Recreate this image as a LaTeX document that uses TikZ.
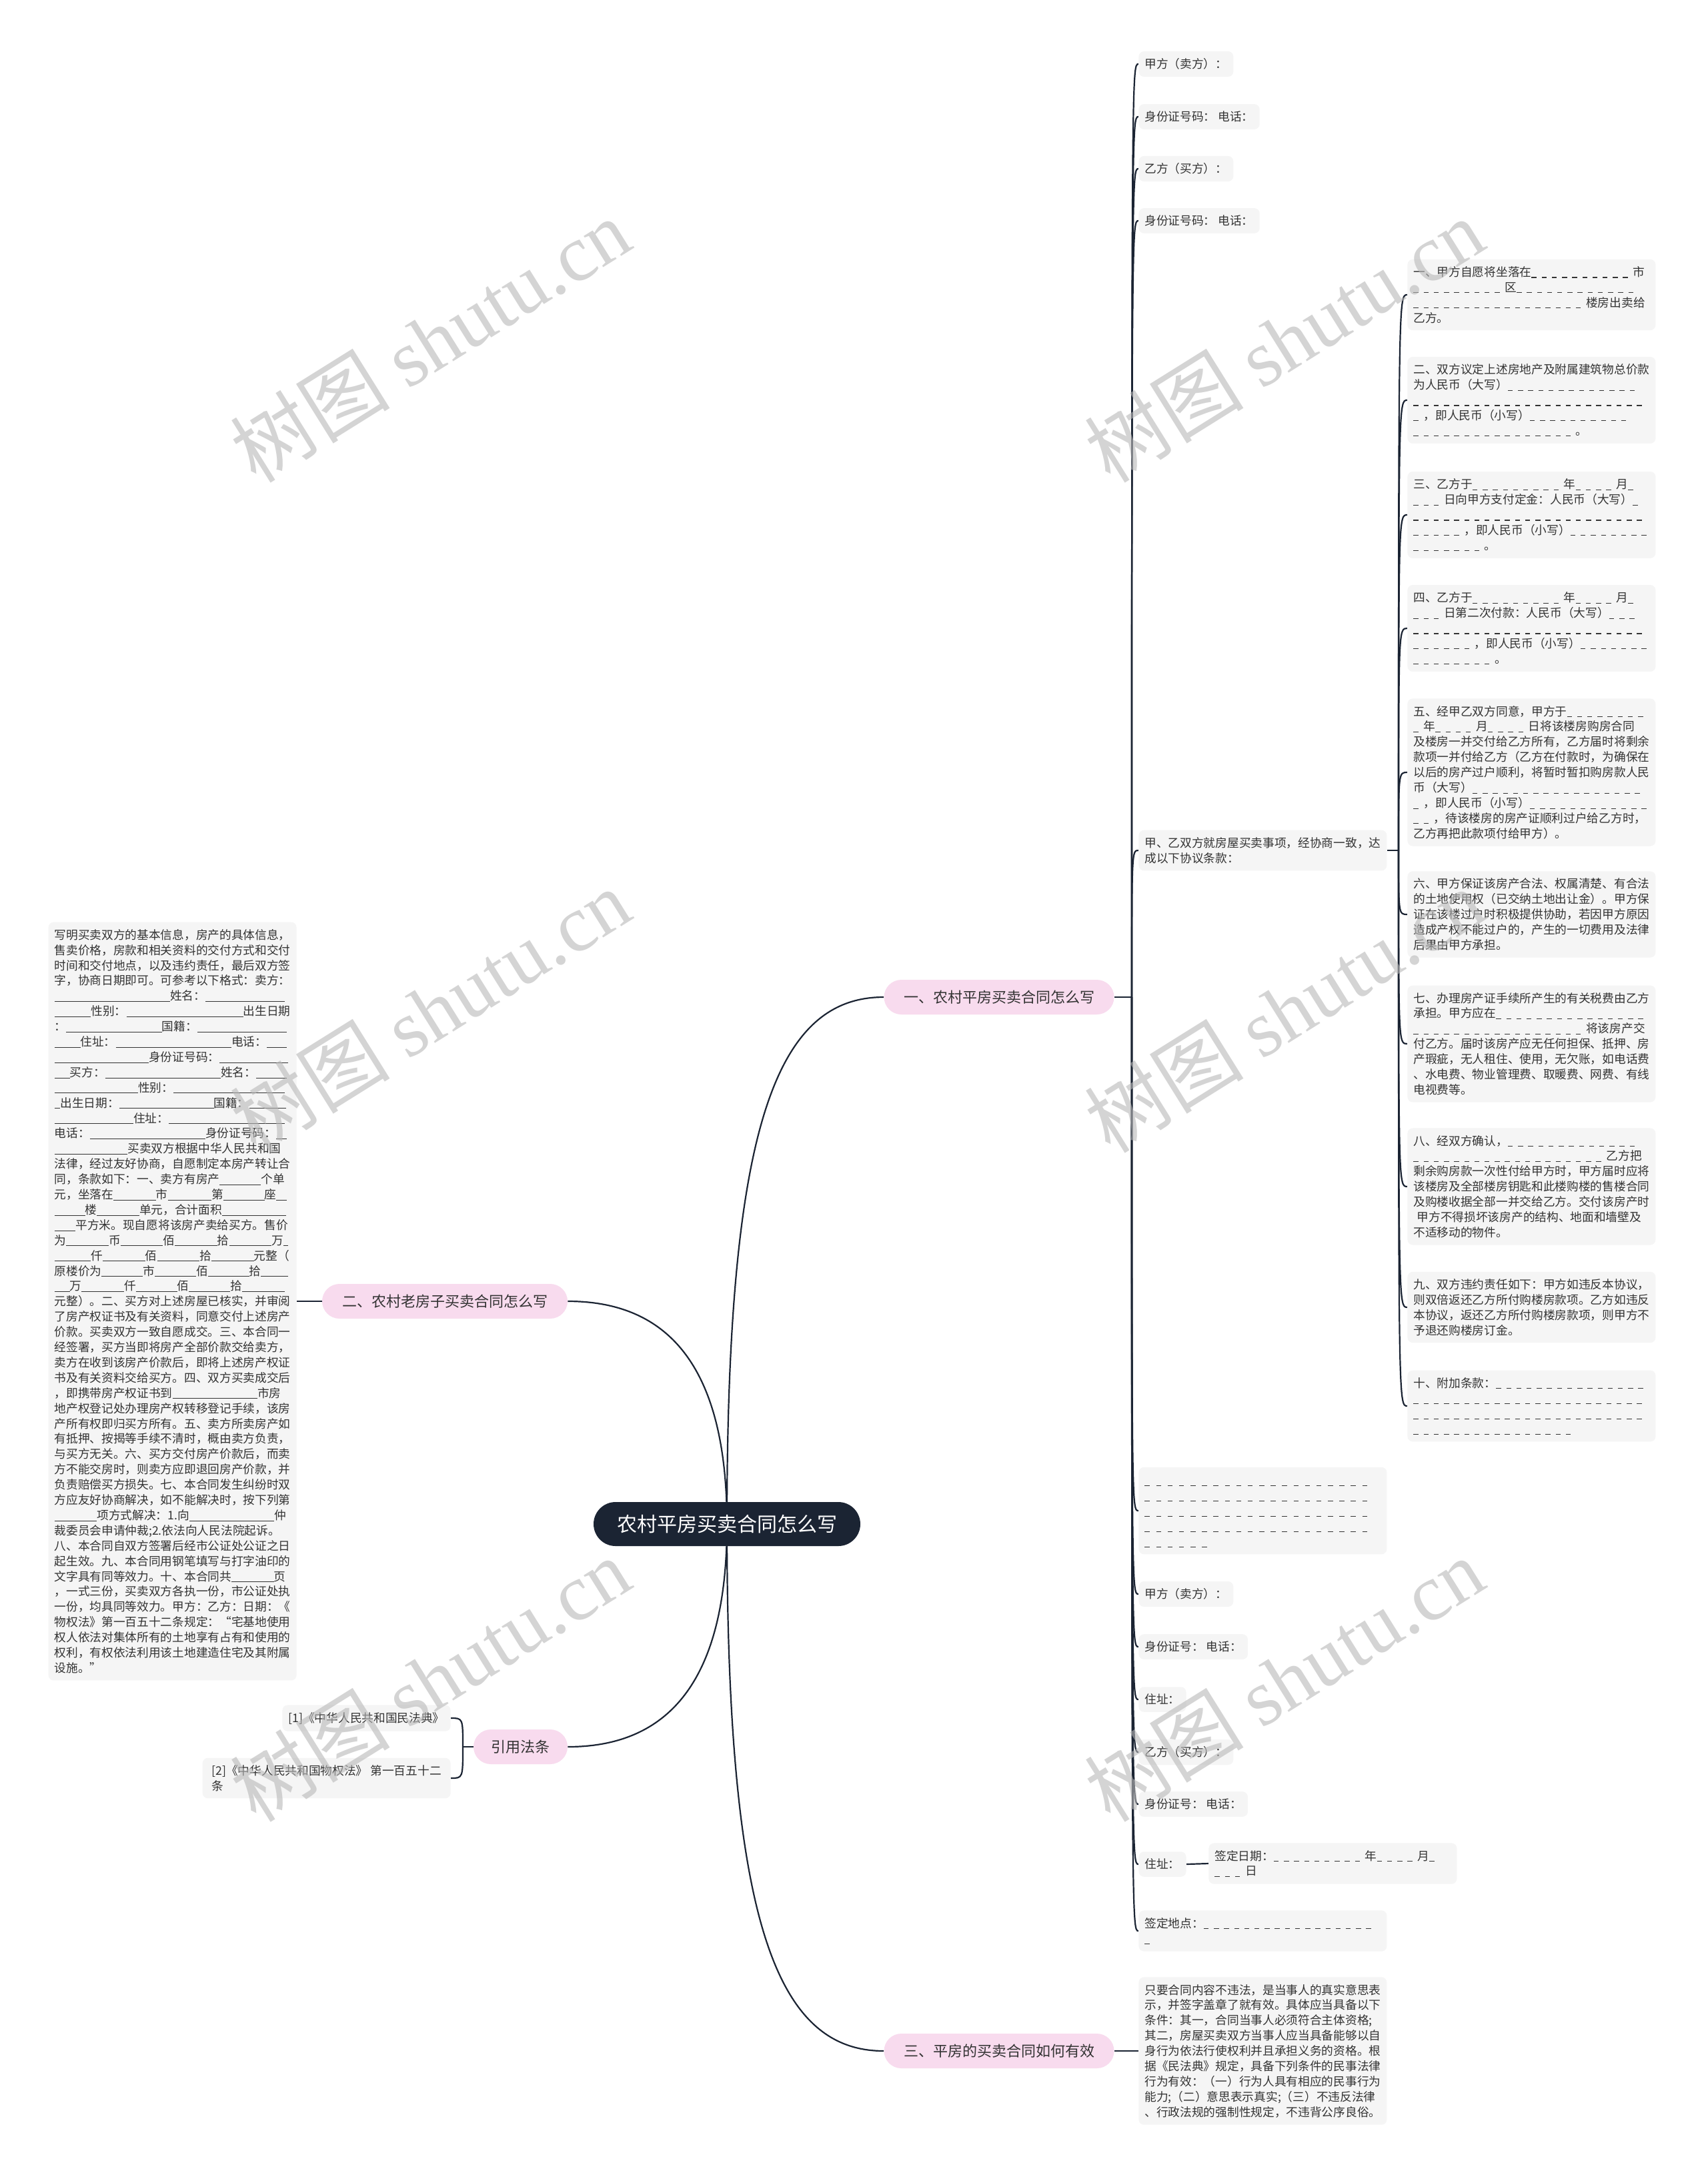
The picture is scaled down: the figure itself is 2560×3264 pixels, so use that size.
\documentclass[tikz,border=0pt]{standalone}
\usepackage{fontspec}
\setmainfont{Noto Sans CJK SC}
\newfontfamily\wmlat{Liberation Serif}
\usetikzlibrary{calc}
\definecolor{rootc}{RGB}{27,36,51}
\definecolor{pinkc}{RGB}{248,219,238}
\definecolor{leafc}{RGB}{245,245,245}
\definecolor{txtc}{RGB}{51,51,51}
\definecolor{linec}{RGB}{27,36,51}
\newcount\dcnt
\newcommand\dsh[2][0.44em]{\dcnt=#2\relax\loop\ifnum\dcnt>0 \rule[-0.12em]{0.42em}{0.06em}\kern#1\advance\dcnt-1 \repeat}
\newcommand\blnk[1]{\rule[-0.12em]{#1em}{0.05em}}
\newcommand\tstrut{\rule{0pt}{0.88em}}
\pgfdeclarelayer{bg}
\pgfsetlayers{bg,main}
\tikzset{
 conn/.style={draw=linec, line width=1.1pt},
 leaf/.style={fill=leafc, rounded corners=4pt, text=txtc, inner xsep=4.5pt, inner ysep=5.3pt, font=\fontsize{8.85pt}{11.45pt}\selectfont, align=left},
 leafw/.style={leaf, text width=177pt},
 branch/.style={fill=pinkc, rounded corners=13pt, text=txtc, minimum height=26pt, inner sep=0pt, font=\fontsize{11pt}{13pt}\selectfont},
 rootn/.style={fill=rootc, text=white, rounded corners=16.5pt, minimum width=200pt, minimum height=33pt, inner sep=0pt, font=\fontsize{15pt}{18pt}\selectfont},
 wm/.style={rotate=32, text=black!28, opacity=0.6, font=\fontsize{60pt}{60pt}\selectfont}
}
\begin{document}
\begin{tikzpicture}[x=0.5pt, y=-0.5pt]
\useasboundingbox (0,0) rectangle (2560,3264);
% root and branches
\node[rootn] (root) at (1090,2285) {农村平房买卖合同怎么写};
\node[branch, minimum width=172.5pt] (b1) at (1498,1495) {一、农村平房买卖合同怎么写};
\node[branch, minimum width=184pt] (b2) at (667,1951) {二、农村老房子买卖合同怎么写};
\node[branch, minimum width=70.5pt] (b3) at (780.5,2619) {引用法条};
\node[branch, minimum width=172.5pt] (b4) at (1498,3075) {三、平房的买卖合同如何有效};
% branch 1 children
\coordinate (J1) at (1697,1495);
\node[leaf, anchor=west] (c1) at (1707,96) {甲方（卖方）：};
\node[leaf, anchor=west] (c2) at (1707,175) {身份证号码： 电话：};
\node[leaf, anchor=west] (c3) at (1707,253) {乙方（买方）：};
\node[leaf, anchor=west] (c4) at (1707,331) {身份证号码： 电话：};
\node[leafw, anchor=west] (c5) at (1707,1275) {甲、乙双方就房屋买卖事项，经协商一致，达\\成以下协议条款：};
\node[leafw, anchor=west] (c6) at (1707,2265) {\tstrut\dsh[0.55em]{20}\\\dsh[0.55em]{20}\\\dsh[0.55em]{20}\\\dsh[0.55em]{20}\\\dsh[0.55em]{6}};
\node[leaf, anchor=west] (c7) at (1707,2390) {甲方（卖方）：};
\node[leaf, anchor=west] (c8) at (1707,2469) {身份证号： 电话：};
\node[leaf, anchor=west] (c9) at (1707,2548) {住址：};
\node[leaf, anchor=west] (c10) at (1707,2627) {乙方（买方）：};
\node[leaf, anchor=west] (c11) at (1707,2705) {身份证号： 电话：};
\node[leaf, anchor=west] (c12) at (1707,2795) {住址：};
\node[leafw, anchor=west] (c13) at (1707,2895) {签定地点：\dsh{17}\\\dsh{1}};
\node[leafw, anchor=west] (dt) at (1812,2794) {签定日期：\dsh{9}年\dsh{4}月\dsh{1}\\\dsh{3}日};
% clauses
\coordinate (J2) at (2097,1275);
\node[leafw, anchor=west] (s1) at (2110,442) {一、甲方自愿将坐落在\dsh{10}市\\
\dsh{9}区\dsh{12}\\
\dsh{17}楼房出卖给\\
乙方。};
\node[leafw, anchor=west] (s2) at (2110,600) {二、双方议定上述房地产及附属建筑物总价款\\
为人民币（大写）\dsh{13}\\
\dsh{23}\\
\dsh{1}，即人民币（小写）\dsh{10}\\
\dsh{16}。};
\node[leafw, anchor=west] (s3) at (2110,772) {三、乙方于\dsh{9}年\dsh{4}月\dsh{1}\\
\dsh{3}日向甲方支付定金：人民币（大写）\dsh{1}\\
\dsh{23}\\
\dsh{5}，即人民币（小写）\dsh{8}\\
\dsh{7}。};
\node[leafw, anchor=west] (s4) at (2110,942) {四、乙方于\dsh{9}年\dsh{4}月\dsh{1}\\
\dsh{3}日第二次付款：人民币（大写）\dsh{3}\\
\dsh{23}\\
\dsh{6}，即人民币（小写）\dsh{7}\\
\dsh{8}。};
\node[leafw, anchor=west] (s5) at (2110,1158) {五、经甲乙双方同意，甲方于\dsh{8}\\
\dsh{1}年\dsh{4}月\dsh{4}日将该楼房购房合同\\
及楼房一并交付给乙方所有，乙方届时将剩余\\
款项一并付给乙方（乙方在付款时，为确保在\\
以后的房产过户顺利，将暂时暂扣购房款人民\\
币（大写）\dsh{17}\\
\dsh{1}，即人民币（小写）\dsh{12}\\
\dsh{2}，待该楼房的房产证顺利过户给乙方时，\\
乙方再把此款项付给甲方）。};
\node[leafw, anchor=west] (s6) at (2110,1371) {六、甲方保证该房产合法、权属清楚、有合法\\
的土地使用权（已交纳土地出让金）。甲方保\\
证在该楼过户时积极提供协助，若因甲方原因\\
造成产权不能过户的，产生的一切费用及法律\\
后果由甲方承担。};
\node[leafw, anchor=west] (s7) at (2110,1565) {七、办理房产证手续所产生的有关税费由乙方\\
承担。甲方应在\dsh{15}\\
\dsh{17}将该房产交\\
付乙方。届时该房产应无任何担保、抵押、房\\
产瑕疵，无人租住、使用，无欠账，如电话费\\
、水电费、物业管理费、取暖费、网费、有线\\
电视费等。};
\node[leafw, anchor=west] (s8) at (2110,1779) {八、经双方确认，\dsh{13}\\
\dsh{19}乙方把\\
剩余购房款一次性付给甲方时，甲方届时应将\\
该楼房及全部楼房钥匙和此楼购楼的售楼合同\\
及购楼收据全部一并交给乙方。交付该房产时\\
\hspace*{0.3em}甲方不得损坏该房产的结构、地面和墙壁及\\
不适移动的物件。};
\node[leafw, anchor=west] (s9) at (2110,1960) {九、双方违约责任如下：甲方如违反本协议，\\
则双倍返还乙方所付购楼房款项。乙方如违反\\
本协议，返还乙方所付购楼房款项，则甲方不\\
予退还购楼房订金。};
\node[leafw, anchor=west] (s10) at (2110,2108) {十、附加条款：\dsh{15}\\
\dsh{23}\\
\dsh{23}\\
\dsh{16}};
% branch 2 child
\node[leafw, anchor=east] (lb) at (445,1951) {写明买卖双方的基本信息，房产的具体信息，\\
售卖价格，房款和相关资料的交付方式和交付\\
时间和交付地点，以及违约责任，最后双方签\\
字，协商日期即可。可参考以下格式：卖方：\\
\blnk{9.8}姓名：\blnk{6.7}\\
\blnk{3.1}性别：\blnk{9.9}出生日期\\
：\blnk{8.1}国籍：\blnk{7.6}\\
\blnk{2.2}住址：\blnk{9.8}电话：\blnk{1.7}\\
\blnk{8}身份证号码：\blnk{5.8}\\
\blnk{1.3}买方：\blnk{9.8}姓名：\blnk{2.6}\\
\blnk{7.1}性别：\blnk{9.4}\\
\blnk{0.5}出生日期：\blnk{8}国籍：\blnk{3.1}\\
\blnk{6.7}住址：\blnk{9.8}\\
电话：\blnk{9.8}身份证号码：\blnk{0.9}\\
\blnk{6.2}买卖双方根据中华人民共和国\\
法律，经过友好协商，自愿制定本房产转让合\\
同，条款如下：一、卖方有房产\blnk{3.5}个单\\
元，坐落在\blnk{3.6}市\blnk{3.7}第\blnk{3.5}座\blnk{0.9}\\
\blnk{2.6}楼\blnk{3.6}单元，合计面积\blnk{5.4}\\
\blnk{1.8}平方米。现自愿将该房产卖给买方。售价\\
为\blnk{3.6}币\blnk{3.6}佰\blnk{3.6}拾\blnk{3.6}万\blnk{0.4}\\
\blnk{3.1}仟\blnk{3.6}佰\blnk{3.6}拾\blnk{3.6}元整（\\
原楼价为\blnk{3.5}市\blnk{3.5}佰\blnk{3.5}拾\blnk{2.3}\\
\blnk{1.3}万\blnk{3.6}仟\blnk{3.5}佰\blnk{3.5}拾\blnk{3.6}\\
元整）。二、买方对上述房屋已核实，并审阅\\
了房产权证书及有关资料，同意交付上述房产\\
价款。买卖双方一致自愿成交。三、本合同一\\
经签署，买方当即将房产全部价款交给卖方，\\
卖方在收到该房产价款后，即将上述房产权证\\
书及有关资料交给买方。四、双方买卖成交后\\
，即携带房产权证书到\blnk{7.2}市房\\
地产权登记处办理房产权转移登记手续，该房\\
产所有权即归买方所有。五、卖方所卖房产如\\
有抵押、按揭等手续不清时，概由卖方负责，\\
与买方无关。六、买方交付房产价款后，而卖\\
方不能交房时，则卖方应即退回房产价款，并\\
负责赔偿买方损失。七、本合同发生纠纷时双\\
方应友好协商解决，如不能解决时，按下列第\\
\blnk{3.6}项方式解决：1.向\blnk{7.2}仲\\
裁委员会申请仲裁;2.依法向人民法院起诉。\\
八、本合同自双方签署后经市公证处公证之日\\
起生效。九、本合同用钢笔填写与打字油印的\\
文字具有同等效力。十、本合同共\blnk{3.6}页\\
，一式三份，买卖双方各执一份，市公证处执\\
一份，均具同等效力。甲方：乙方：日期：《\\
物权法》第一百五十二条规定：“宅基地使用\\
权人依法对集体所有的土地享有占有和使用的\\
权利，有权依法利用该土地建造住宅及其附属\\
设施。”};
% references
\coordinate (J3) at (694,2619);
\node[leaf, anchor=east, align=right] (r1) at (676,2576) {[1]《中华人民共和国民法典》};
\node[leaf, anchor=east, align=left, minimum width=186pt] (r2) at (676,2666) {[2]《中华人民共和国物权法》 第一百五十二\\条};
% branch 3 child
\node[leafw, anchor=west] (t1) at (1707,3075) {只要合同内容不违法，是当事人的真实意思表\\
示，并签字盖章了就有效。具体应当具备以下\\
条件：其一，合同当事人必须符合主体资格;\\
其二，房屋买卖双方当事人应当具备能够以自\\
身行为依法行使权利并且承担义务的资格。根\\
据《民法典》规定，具备下列条件的民事法律\\
行为有效：（一）行为人具有相应的民事行为\\
能力;（二）意思表示真实;（三）不违反法律\\
、行政法规的强制性规定，不违背公序良俗。};
% connectors
\begin{pgfonlayer}{bg}
\fill[white] (0,0) rectangle (2560,3264);
\draw[conn] (root.center) .. controls (1090,1700) and (1160,1495) .. (b1.west);
\draw[conn] (root.center) .. controls (1090,2870) and (1160,3075) .. (b4.west);
\draw[conn] (root.center) .. controls (1090,2060) and (1010,1951) .. (b2.east);
\draw[conn] (root.center) .. controls (1090,2510) and (1010,2619) .. (b3.east);
\draw[conn] (b1.east) -- (J1);
\foreach \i in {1,...,13} {\draw[conn] (J1) .. controls (J1 |- c\i.west) .. (c\i.west);}
\draw[conn] (c5.east) -- (J2);
\foreach \i in {1,...,10} {\draw[conn] (J2) .. controls (J2 |- s\i.west) .. (s\i.west);}
\draw[conn] (c12.east) -- (dt.west);
\draw[conn] (b2.west) -- (lb.east);
\draw[conn] (b3.west) -- (J3);
\draw[conn] (J3) .. controls (J3 |- r1.east) .. (r1.east);
\draw[conn] (J3) .. controls (J3 |- r2.east) .. (r2.east);
\draw[conn] (b4.east) -- (t1.west);
\end{pgfonlayer}
% watermarks
\node[wm] (w1) at (645,510) {树图 {\wmlat shutu.cn}};
\node[wm] (w2) at (1925,510) {树图 {\wmlat shutu.cn}};
\node[wm] (w3) at (645,1515) {树图 {\wmlat shutu.cn}};
\node[wm] (w4) at (1925,1515) {树图 {\wmlat shutu.cn}};
\node[wm] (w5) at (645,2518) {树图 {\wmlat shutu.cn}};
\node[wm] (w6) at (1925,2518) {树图 {\wmlat shutu.cn}};
\end{tikzpicture}
\end{document}
